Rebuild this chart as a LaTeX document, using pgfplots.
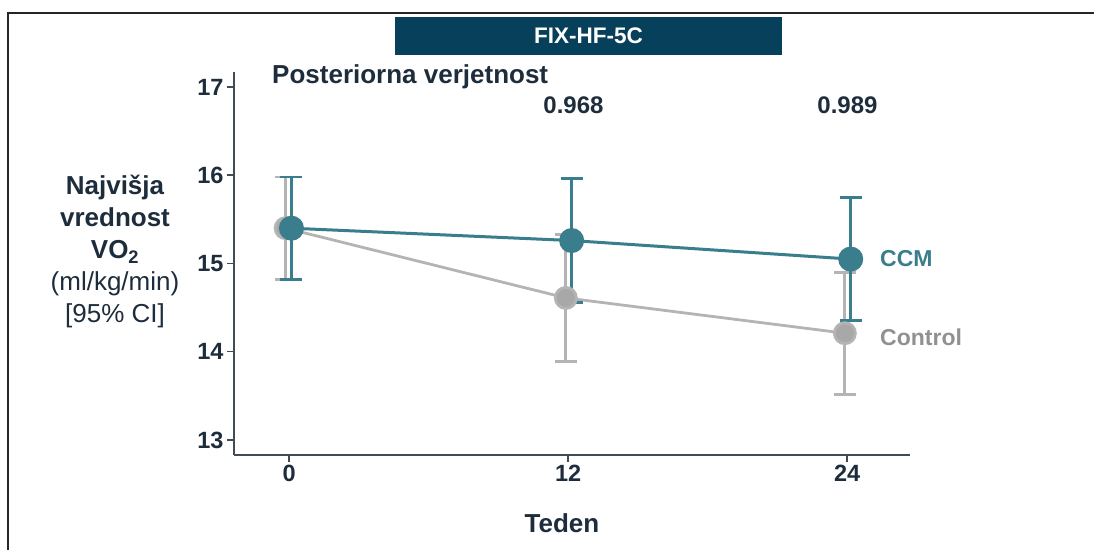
\documentclass[border=0pt]{standalone}
\usepackage{fontspec}
\setmainfont{Liberation Sans}
\usepackage{pgfplots}
\pgfplotsset{compat=1.18}
\definecolor{ccm}{RGB}{58,125,140}
\definecolor{ctrl}{RGB}{180,180,180}
\definecolor{ctrlm}{RGB}{168,168,168}
\definecolor{txt}{RGB}{30,45,60}
\definecolor{banner}{RGB}{7,64,90}
\definecolor{axc}{RGB}{65,75,85}
\begin{document}
\begin{tikzpicture}
\path[use as bounding box] (0,0) rectangle (1094bp,550bp);
\draw[line width=1.5bp, black!85] (8bp,0) -- (8bp,537bp) -- (1094bp,537bp);
\begin{axis}[
  at={(234bp,95bp)}, anchor=south west,
  scale only axis, width=676bp, height=383bp,
  xmin=-2.37, xmax=26.7, ymin=12.83, ymax=17.17,
  axis x line*=bottom, axis y line*=left,
  xtick={0,12,24}, ytick={13,14,15,16,17},
  axis line style={axc, line width=2bp},
  tick style={axc, line width=1.5bp},
  major tick length=7bp, tick align=outside,
  /pgf/number format/assume math mode=true,
  ticklabel style={font=\fontsize{23.5bp}{23.5bp}\selectfont\bfseries, text=txt},
  clip=false,
]
\addplot[ctrl, line width=2.8bp, mark=*, mark size=10.5bp,
  mark options={draw=none, fill=ctrlm},
  error bars/.cd, y dir=both, y explicit, error mark=|,
  error bar style={line width=2.8bp, ctrl},
  error mark options={ctrl, mark size=11bp, line width=2.8bp}]
  coordinates {(-0.15,15.40) +- (0,0.58) (11.9,14.61) +- (0,0.72) (23.9,14.21) +- (0,0.69)};
\addplot[ccm, line width=3bp, mark=*, mark size=11bp,
  mark options={draw=none, fill=ccm},
  error bars/.cd, y dir=both, y explicit, error mark=|,
  error bar style={line width=2.8bp, ccm},
  error mark options={ccm, mark size=11bp, line width=2.8bp}]
  coordinates {(0.1,15.40) +- (0,0.58) (12.15,15.26) +- (0,0.70) (24.15,15.05) +- (0,0.70)};
\end{axis}
\fill[banner] (395bp,495bp) rectangle (782bp,533bp);
\node[text=white, font=\fontsize{22.5bp}{26bp}\selectfont\bfseries, inner sep=0] at (588.5bp,514.5bp) {FIX-HF-5C};
\node[anchor=base west, text=txt, font=\fontsize{26bp}{30bp}\selectfont\bfseries, inner sep=0] at (272bp,466.5bp) {Posteriorna verjetnost};
\node[anchor=base, text=txt, font=\fontsize{24bp}{28bp}\selectfont\bfseries, inner sep=0] at (573.5bp,436bp) {0.968};
\node[anchor=base, text=txt, font=\fontsize{24bp}{28bp}\selectfont\bfseries, inner sep=0] at (847.5bp,436bp) {0.989};
\node[anchor=base west, text=ccm, font=\fontsize{23bp}{27bp}\selectfont\bfseries, inner sep=0] at (880bp,283bp) {CCM};
\node[anchor=base west, text={rgb,255:red,145;green,145;blue,145}, font=\fontsize{23bp}{27bp}\selectfont\bfseries, inner sep=0] at (880bp,204bp) {Control};
\node[anchor=base, text=txt, font=\fontsize{26bp}{30bp}\selectfont\bfseries, inner sep=0] at (115bp,355bp) {Najvišja};
\node[anchor=base, text=txt, font=\fontsize{26bp}{30bp}\selectfont\bfseries, inner sep=0] at (115bp,323bp) {vrednost};
\node[anchor=base, text=txt, font=\fontsize{26bp}{30bp}\selectfont\bfseries, inner sep=0] at (115bp,291bp) {VO\textsubscript{2}};
\node[anchor=base, text=txt, font=\fontsize{26bp}{30bp}\selectfont, inner sep=0] at (115bp,259bp) {(ml/kg/min)};
\node[anchor=base, text=txt, font=\fontsize{26bp}{30bp}\selectfont, inner sep=0] at (115bp,227bp) {[95\% CI]};
\node[anchor=base, text=txt, font=\fontsize{26bp}{30bp}\selectfont\bfseries, inner sep=0] at (562bp,17.3bp) {Teden};
\end{tikzpicture}
\end{document}
